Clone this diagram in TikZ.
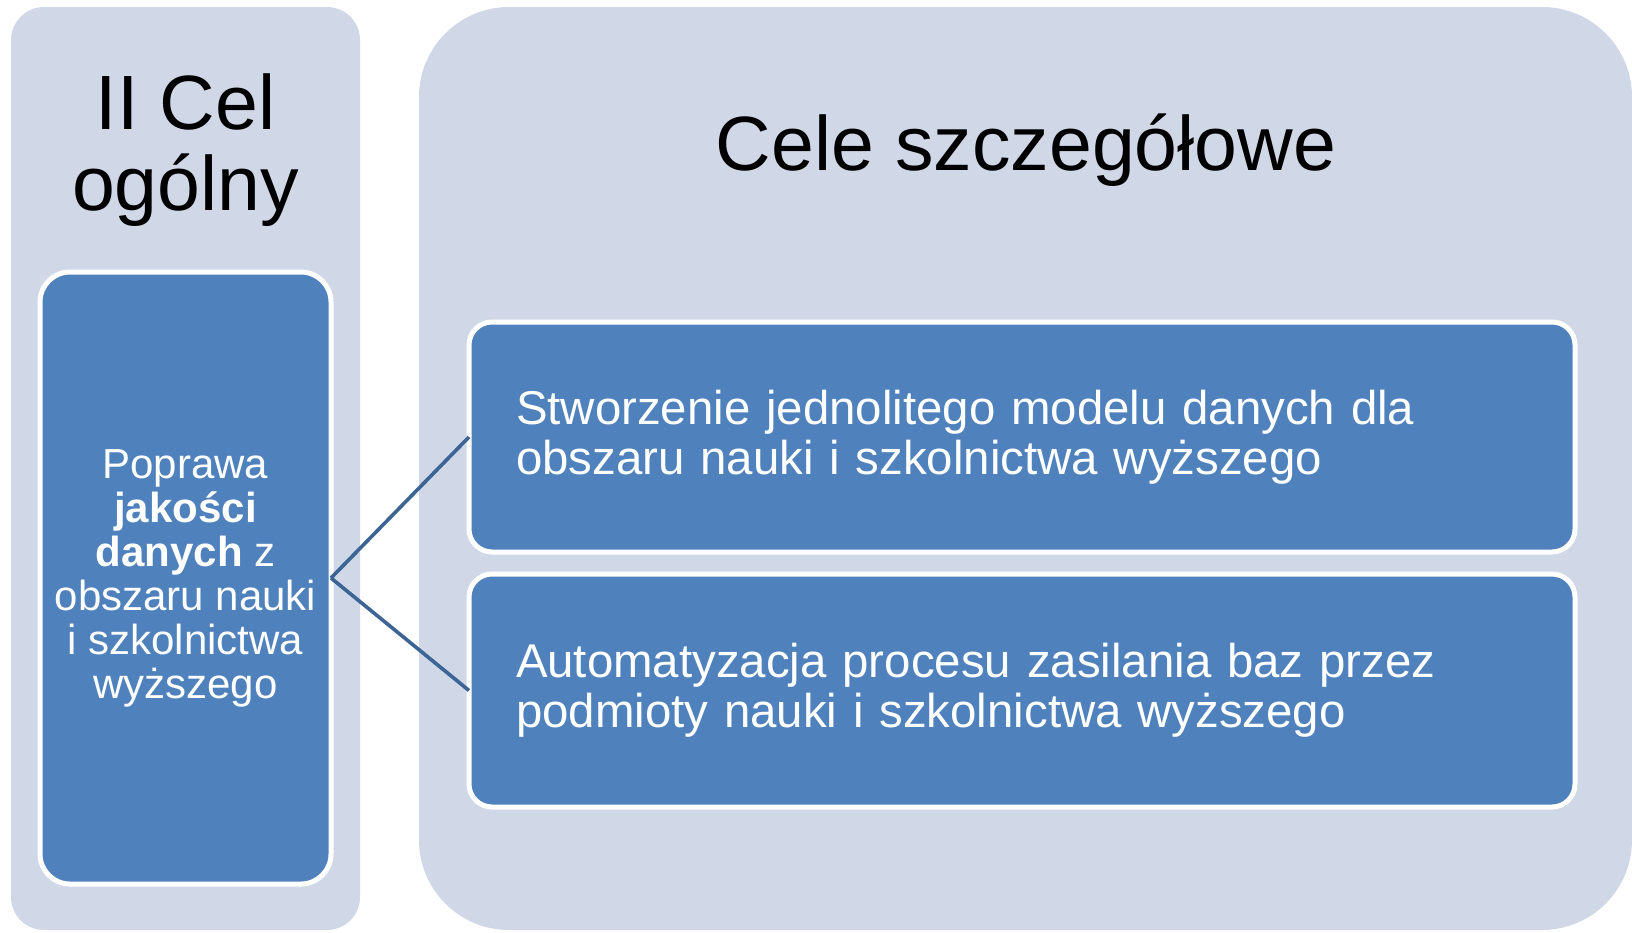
\documentclass[tikz,border=0pt]{standalone}
\usepackage{fontspec}
\setmainfont{Liberation Sans}
\usetikzlibrary{positioning,calc}
\definecolor{panelgray}{HTML}{D0D8E8}
\definecolor{boxblue}{HTML}{4F81BD}
\definecolor{linkblue}{HTML}{3C6494}

\begin{document}
\begin{tikzpicture}[x=0.5pt, y=-0.5pt,
    panel/.style={fill=panelgray, inner sep=0pt, outer sep=0pt},
    aimbox/.style={fill=boxblue, draw=white, line width=2.5pt, inner sep=0pt, outer sep=0pt, text=white},
    link/.style={draw=linkblue, line width=1.8pt}]
    \useasboundingbox (0,0) rectangle (1632,932);

    % Background panels
    \node[panel, rounded corners=16.5pt, minimum width=174.5pt, minimum height=461.5pt] (leftpanel) at (185.5,468.5) {};
    \node[panel, rounded corners=45pt, minimum width=606.5pt, minimum height=461.5pt] (rightpanel) at (1025.5,468.5) {};

    % Panel titles
    \node[font=\fontsize{38.5}{40.5}\selectfont, align=center, inner sep=0pt] (lefttitle) at (185.5,150.5) {II Cel\\ogólny};
    \node[font=\fontsize{38.5}{40.5}\selectfont, anchor=base, inner sep=0pt] (righttitle) at (1026,170) {Cele szczegółowe};

    % General goal
    \node[aimbox, rounded corners=15pt, minimum width=145.5pt, minimum height=306pt, align=center, font=\fontsize{21}{22}\selectfont] (goal) at (185.5,578)
        {Poprawa\\\textbf{jakości}\\\textbf{danych} z\\obszaru nauki\\i szkolnictwa\\wyższego};

    % Specific goals
    \node[aimbox, rounded corners=11.5pt, minimum width=553pt, minimum height=115pt, inner xsep=23.5pt, text width=506pt, align=left, font=\fontsize{23.7}{25}\selectfont] (aim1) at (1022,437)
        {Stworzenie jednolitego modelu danych dla\\obszaru nauki i szkolnictwa wyższego};
    \node[aimbox, rounded corners=11.5pt, minimum width=553pt, minimum height=116.5pt, inner xsep=23.5pt, text width=506pt, align=left, font=\fontsize{23.7}{25}\selectfont] (aim2) at (1022,690.5)
        {Automatyzacja procesu zasilania baz przez\\podmioty nauki i szkolnictwa wyższego};

    % Links
    \draw[link] (goal.east) -- (aim1.west);
    \draw[link] (goal.east) -- (aim2.west);
\end{tikzpicture}
\end{document}
